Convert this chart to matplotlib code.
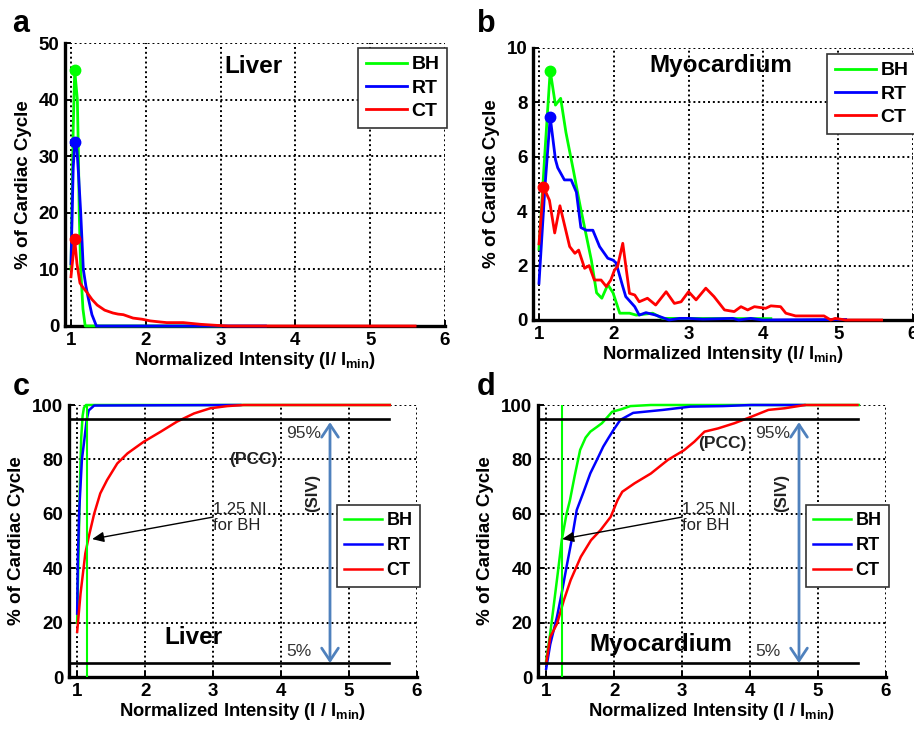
import os

os.environ.setdefault("MPLBACKEND", "Agg")

import numpy as np
import matplotlib.pyplot as plt

plt.rcParams.update({
    "font.family": ["Liberation Sans", "DejaVu Sans"],
    "font.weight": "bold",
    "mathtext.fontset": "custom",
    "mathtext.rm": "Liberation Sans:bold",
    "mathtext.it": "Liberation Sans:bold",
    "mathtext.bf": "Liberation Sans:bold",
    "mathtext.default": "rm",
})

# ---- data ----
series_names = ["BH", "RT", "CT"]
x_ticks = [1, 2, 3, 4, 5, 6]

# a: liver, % of cycle per intensity bin
a_bh_x = [1.0, 1.03, 1.05, 1.085, 1.10, 1.11, 1.13, 1.16, 1.19, 3.0]
a_bh_y = [10, 35, 45.2, 40, 30, 20, 10, 3, 0, 0]
a_rt_x = [1.0, 1.03, 1.05, 1.08, 1.10, 1.13, 1.165, 1.2, 1.23, 1.28, 1.34, 3.6]
a_rt_y = [11, 28, 32.5, 31, 27, 20, 10, 7, 5, 2, 0, 0]
a_ct_x = [1.0, 1.05, 1.08, 1.12, 1.16, 1.21, 1.28, 1.35, 1.45, 1.56, 1.63, 1.70,
          1.83, 1.95, 2.06, 2.20, 2.28, 2.50, 2.73, 2.96, 3.1, 5.6]
a_ct_y = [8.7, 15.3, 11, 7.6, 6.8, 6.0, 4.7, 3.7, 2.8, 2.3, 2.1, 2.0,
          1.4, 1.2, 0.9, 0.7, 0.6, 0.6, 0.3, 0.1, 0, 0]

# b: myocardium, % of cycle per intensity bin
b_bh_x = [1.0, 1.08, 1.15, 1.22, 1.29, 1.36, 1.46, 1.55, 1.64, 1.70, 1.77, 1.84,
          1.92, 1.99, 2.08, 2.21, 2.30, 2.52, 2.65, 4.1]
b_bh_y = [2.6, 6.2, 9.17, 7.9, 8.15, 6.9, 5.5, 4.2, 3.0, 2.2, 1.0, 0.8,
          1.3, 1.0, 0.25, 0.25, 0.18, 0.25, 0.06, 0.05]
b_rt_x = [1.0, 1.08, 1.15, 1.22, 1.25, 1.34, 1.43, 1.50, 1.56, 1.63, 1.72, 1.81,
          1.92, 1.99, 2.03, 2.12, 2.16, 2.28, 2.34, 2.43, 2.56, 2.74, 2.88, 3.0,
          3.19, 3.59, 3.67, 3.83, 3.99, 5.1]
b_rt_y = [1.35, 4.9, 7.46, 5.9, 5.6, 5.15, 5.15, 4.7, 3.4, 3.3, 3.3, 2.7,
          2.27, 2.2, 2.1, 1.23, 0.86, 0.49, 0.18, 0.27, 0.18, 0.0, 0.06, 0.06,
          0.03, 0.06, 0.0, 0.06, 0.0, 0.02]
b_ct_x = [1.0, 1.06, 1.14, 1.21, 1.28, 1.41, 1.48, 1.53, 1.61, 1.67, 1.74, 1.83,
          1.90, 1.96, 2.01, 2.05, 2.12, 2.21, 2.28, 2.34, 2.45, 2.56, 2.70, 2.81,
          2.90, 3.0, 3.10, 3.23, 3.34, 3.48, 3.61, 3.70, 3.79, 3.88, 4.03, 4.10,
          4.23, 4.30, 4.43, 4.81, 4.90, 4.96, 5.10, 5.58]
b_ct_y = [2.8, 4.9, 4.4, 3.2, 4.2, 2.7, 2.45, 2.57, 1.9, 2.0, 1.47, 1.47,
          1.23, 1.47, 1.84, 1.96, 2.82, 0.98, 0.92, 0.67, 0.8, 0.55, 1.04, 0.61,
          0.67, 1.04, 0.74, 1.17, 0.86, 0.37, 0.31, 0.49, 0.37, 0.49, 0.43, 0.52,
          0.49, 0.25, 0.15, 0.15, 0.0, 0.06, 0.0, 0.0]

# c: liver, cumulative
c_bh_x = [1.0, 1.02, 1.04, 1.06, 1.08, 1.10, 1.13, 5.6]
c_bh_y = [20, 45, 70, 88, 96, 99, 100, 100]
c_rt_x = [1.0, 1.01, 1.03, 1.07, 1.10, 1.14, 1.17, 1.25, 3.4]
c_rt_y = [23.3, 43, 61, 80, 86, 94.5, 98, 99.8, 100]
c_ct_x = [1.0, 1.05, 1.12, 1.17, 1.25, 1.34, 1.44, 1.59, 1.74, 1.98, 2.23, 2.47,
          2.72, 2.96, 3.21, 3.45, 5.6]
c_ct_y = [16.6, 30.7, 45.4, 51.5, 60, 67.5, 72.4, 78.5, 82.2, 86.5, 90.2, 93.9,
          96.9, 98.8, 99.6, 100, 100]

# d: myocardium, cumulative
d_bh_x = [1.0, 1.06, 1.11, 1.17, 1.23, 1.30, 1.35, 1.42, 1.50, 1.58, 1.65, 1.75,
          1.82, 1.90, 1.97, 2.10, 2.24, 2.54, 5.6]
d_bh_y = [6, 16, 26, 38, 50.4, 60, 65, 74, 83.5, 88, 90.2, 92,
          93.3, 95.5, 97.5, 98.4, 99.6, 100, 100]
d_rt_x = [1.0, 1.06, 1.16, 1.23, 1.30, 1.38, 1.45, 1.55, 1.65, 1.75, 1.84, 1.92,
          1.99, 2.09, 2.28, 2.72, 3.12, 3.6, 4.02, 4.8]
d_rt_y = [3, 12, 22.2, 31, 40.5, 51, 61.4, 68, 74.9, 80, 84.7, 88,
          90.8, 94.5, 97.1, 98.2, 99.4, 99.6, 100, 100]
d_ct_x = [1.0, 1.06, 1.16, 1.26, 1.36, 1.51, 1.66, 1.80, 1.95, 2.05, 2.12, 2.30,
          2.54, 2.79, 3.03, 3.18, 3.33, 3.53, 3.77, 4.02, 4.27, 4.51, 4.81, 5.58]
d_ct_y = [4.9, 14.7, 19.6, 28.2, 35.6, 44.2, 50.3, 54, 58.9, 65, 68.1, 71.2,
          74.8, 79.8, 83.4, 86.5, 90.2, 91.4, 93.3, 95.7, 98.2, 98.8, 100, 100]

# PCC / SIV annotation values
pcc_levels = [95, 5]
pcc_line_end = 5.59
siv_x = 4.72
bh_cut_c = 1.14
bh_cut_d = 1.24

COLORS = ["#00ff00", "#0000ff", "#ff0000"]
ARROW_BLUE = "#4f81bd"
XLABEL_AB = r"Normalized Intensity (I/ I$_{\rm min}$)"
XLABEL_CD = r"Normalized Intensity (I / I$_{\rm min}$)"

W, H = 914, 729
fig = plt.figure(figsize=(W / 100, H / 100), dpi=100)


def px_axes(left, top, right, bottom):
    """Axes placed by pixel box of the reference."""
    return fig.add_axes([left / W, 1 - bottom / H, (right - left) / W, (bottom - top) / H])


def style_axes(ax, xlim, ylim, yticks, xlabel):
    ax.set_xlim(*xlim)
    ax.set_ylim(*ylim)
    ax.set_xticks(x_ticks)
    ax.set_yticks(yticks)
    ax.grid(True, color="black", linestyle=(0, (1, 1.5)), linewidth=1.4)
    for side in ("top", "right"):
        ax.spines[side].set_visible(False)
    for side in ("left", "bottom"):
        ax.spines[side].set_linewidth(2.4)
    ax.tick_params(direction="in", length=4, width=1.4, labelsize=13.5, pad=4)
    for lab in ax.get_xticklabels() + ax.get_yticklabels():
        lab.set_fontweight("bold")
    ax.set_xlabel(xlabel, fontsize=13.2, fontweight="bold", labelpad=1)
    ax.set_ylabel("% of Cardiac Cycle", fontsize=13.5, fontweight="bold", labelpad=5)


def add_legend(ax, handles, x_px, y_px, size, spacing):
    leg = ax.legend(handles, series_names, loc="upper left",
                    bbox_to_anchor=(x_px / W, 1 - y_px / H), bbox_transform=fig.transFigure,
                    prop={"size": size, "weight": "bold"}, frameon=True, fancybox=False,
                    framealpha=1, edgecolor="#333333", borderaxespad=0, borderpad=0.4,
                    handlelength=2.1, handletextpad=0.25, labelspacing=spacing)
    leg.get_frame().set_linewidth(1.2)
    leg.set_zorder(10)


def draw_pdf(ax, xs, ys, lw):
    handles = []
    for x, y, c in zip(xs, ys, COLORS):
        (ln,) = ax.plot(x, y, color=c, lw=lw, zorder=3, clip_on=False)
        handles.append(ln)
    for x, y, c in zip(xs, ys, COLORS):
        i = int(np.argmax(y))
        ax.plot(x[i], y[i], "o", color=c, ms=7.5, zorder=4, clip_on=False)
    return handles


def draw_cdf(ax, xs, ys, bh_cut, siv_y, pcc_pos, arrow_tip):
    handles = []
    for x, y, c in zip(xs, ys, COLORS):
        (ln,) = ax.plot(x, y, color=c, lw=1.8, zorder=3, clip_on=False)
        handles.append(ln)
    ax.plot([bh_cut, bh_cut], [0, 100], color=COLORS[0], lw=1.5, zorder=3)
    x0 = ax.get_xlim()[0]
    for lvl in pcc_levels:
        ax.plot([x0, pcc_line_end], [lvl, lvl], color="black", lw=1.9, zorder=3)
    ax.text(4.08, 89.7, "95%", fontsize=12.5, fontweight="normal", color="#333333",
            ha="left", va="center")
    ax.text(4.08, 9.2, "5%", fontsize=12.5, fontweight="normal", color="#333333",
            ha="left", va="center")
    ax.annotate("", xy=(siv_x, 93.7), xytext=(siv_x, 5.1),
                arrowprops=dict(arrowstyle="<->,head_length=0.45,head_width=0.3",
                                color=ARROW_BLUE, lw=2, shrinkA=0, shrinkB=0,
                                mutation_scale=20), zorder=4)
    ax.text(4.47, siv_y, "(SIV)", rotation=90, fontsize=12, color="#222222",
            ha="center", va="center")
    ax.text(pcc_pos[0], pcc_pos[1], "(PCC)", fontsize=12.5, color="#222222",
            ha="center", va="center")
    ax.annotate("", xy=arrow_tip, xytext=(3.0, 58.8),
                arrowprops=dict(arrowstyle="-|>,head_length=0.5,head_width=0.22",
                                color="black", lw=1, shrinkA=0, shrinkB=0,
                                mutation_scale=14), zorder=5)
    ax.text(3.0, 58.5, "1.25 NI\nfor BH", fontsize=12, fontweight="normal",
            color="#222222", ha="left", va="center", linespacing=1.1)
    return handles


# panel a
ax_a = px_axes(65, 43, 445, 326)
style_axes(ax_a, (0.92, 6.0), (0, 50), [0, 10, 20, 30, 40, 50], XLABEL_AB)
h = draw_pdf(ax_a, [a_bh_x, a_rt_x, a_ct_x], [a_bh_y, a_rt_y, a_ct_y], 2.0)
ax_a.text(3.44, 45.9, "Liver", fontsize=17.5, ha="center", va="center")
add_legend(ax_a, h, 358, 48, 14, 0.3)

# panel b
ax_b = px_axes(533, 48, 913, 320)
style_axes(ax_b, (0.92, 6.0), (0, 10), [0, 2, 4, 6, 8, 10], XLABEL_AB)
h = draw_pdf(ax_b, [b_bh_x, b_rt_x, b_ct_x], [b_bh_y, b_rt_y, b_ct_y], 2.0)
ax_b.text(3.43, 9.34, "Myocardium", fontsize=17.5, ha="center", va="center")
add_legend(ax_b, h, 827, 54, 14, 0.3)

# panel c
ax_c = px_axes(69, 405, 417, 677)
style_axes(ax_c, (0.88, 6.0), (0, 100), [0, 20, 40, 60, 80, 100], XLABEL_CD)
h = draw_cdf(ax_c, [c_bh_x, c_rt_x, c_ct_x], [c_bh_y, c_rt_y, c_ct_y], bh_cut_c,
             67.6, (3.59, 80.1), (1.22, 50.7))
ax_c.text(2.71, 14.7, "Liver", fontsize=17.5, ha="center", va="center")
add_legend(ax_c, h, 337, 505, 13, 0.45)

# panel d
ax_d = px_axes(538, 405, 886, 677)
style_axes(ax_d, (0.88, 6.0), (0, 100), [0, 20, 40, 60, 80, 100], XLABEL_CD)
h = draw_cdf(ax_d, [d_bh_x, d_rt_x, d_ct_x], [d_bh_y, d_rt_y, d_ct_y], bh_cut_d,
             67.6, (3.59, 86.0), (1.235, 50.7))
ax_d.text(2.69, 11.8, "Myocardium", fontsize=17.5, ha="center", va="center")
add_legend(ax_d, h, 806, 505, 13, 0.45)

for letter, (xp, yp) in zip("abcd", [(12, 32), (477, 32), (13, 395), (477, 395)]):
    fig.text(xp / W, 1 - yp / H, letter, fontsize=22, fontweight="bold",
             ha="left", va="baseline")

fig.savefig("out.png", dpi=100)
plt.close(fig)
